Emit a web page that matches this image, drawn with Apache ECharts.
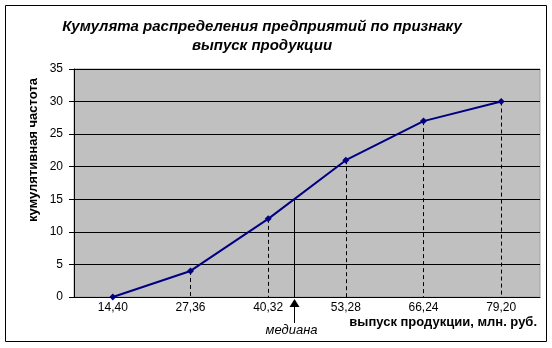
<!DOCTYPE html>
<html><head><meta charset="utf-8">
<script src="https://cdn.jsdelivr.net/npm/echarts@6/dist/echarts.min.js"></script>
<style>html,body{margin:0;padding:0;background:#fff}#c{width:552px;height:348px}</style>
</head><body><div id="c"></div>
<script>
var categories = [14.40, 27.36, 40.32, 53.28, 66.24, 79.20];
var categoryLabels = ['14,40', '27,36', '40,32', '53,28', '66,24', '79,20'];
var cumulative = [0, 4, 12, 21, 27, 30];
var yTicks = [0, 5, 10, 15, 20, 25, 30, 35];
var medianX = 44.64;
var medianY = 15;
var titleText = 'Кумулята распределения предприятий по признаку\nвыпуск продукции';
var yName = 'кумулятивная частота';
var xName = 'выпуск продукции, млн. руб.';
var medianLabel = 'медиана';

var FONT = '"Liberation Sans", Arial, sans-serif';
var step = categories[1] - categories[0];
var chart = echarts.init(document.getElementById('c'), null, {renderer: 'canvas'});

var pts = categories.map(function (x, i) { return [x, cumulative[i]]; });
var drops = [];
for (var i = 1; i < pts.length; i++) {
  drops.push([{coord: [pts[i][0], pts[i][1]]}, {coord: [pts[i][0], 0]}]);
}

var option = {
  animation: false,
  backgroundColor: '#ffffff',
  grid: {left: 74, right: 12, top: 69, bottom: 51, show: true, backgroundColor: '#c0c0c0', borderColor: '#a0a0a0', borderWidth: 1},
  xAxis: [{
    type: 'category', data: categoryLabels, boundaryGap: true,
    axisLine: {lineStyle: {color: '#000', width: 1}},
    axisTick: {show: false},
    axisLabel: {color: '#000', fontFamily: FONT, fontSize: 12, margin: 5},
    splitLine: {show: false}
  }, {
    type: 'value', show: false,
    min: categories[0] - step / 2, max: categories[categories.length - 1] + step / 2
  }],
  yAxis: {
    type: 'value', min: yTicks[0], max: yTicks[yTicks.length - 1], interval: yTicks[1] - yTicks[0],
    axisLine: {show: true, lineStyle: {color: '#000', width: 1}},
    axisTick: {show: true, length: 5, lineStyle: {color: '#000'}},
    axisLabel: {color: '#000', fontFamily: FONT, fontSize: 12, margin: 11},
    splitLine: {show: true, lineStyle: {color: '#000', width: 1}}
  },
  series: [{
    type: 'line', xAxisIndex: 1, yAxisIndex: 0, data: pts,
    symbol: 'diamond', symbolSize: 7, clip: false,
    lineStyle: {color: '#000080', width: 2},
    itemStyle: {color: '#000080'},
    z: 5,
    markLine: {
      silent: true, symbol: ['none', 'none'], animation: false,
      label: {show: false},
      lineStyle: {color: '#000', width: 1, type: [4, 3]},
      data: drops.concat([[{coord: [medianX, medianY], lineStyle: {type: 'solid', color: '#000', width: 1}}, {coord: [medianX, 0]}]])
    }
  }]
};
chart.setOption(option);

var base = chart.convertToPixel({xAxisIndex: 1, yAxisIndex: 0}, [medianX, 0]);
var mx = Math.round(base[0]) + 0.5, my = base[1];
chart.setOption({
  graphic: [
    {type: 'rect', shape: {x: 5.5, y: 5.5, width: 541, height: 336}, style: {fill: null, stroke: '#000', lineWidth: 1}, silent: true},
    {type: 'text', x: 262, y: 17, style: {text: titleText, font: 'italic bold 15px ' + FONT, textAlign: 'center', textVerticalAlign: 'top', lineHeight: 19, fill: '#000'}},
    {type: 'text', x: 33, y: 150, rotation: Math.PI / 2, style: {text: yName, font: 'bold 13px ' + FONT, textAlign: 'center', textVerticalAlign: 'middle', fill: '#000'}},
    {type: 'text', x: 537, y: 322, style: {text: xName, font: 'bold 13px ' + FONT, textAlign: 'right', textVerticalAlign: 'middle', fill: '#000'}},
    {type: 'polygon', shape: {points: [[mx, my + 2], [mx - 5, my + 10], [mx + 5, my + 10]]}, style: {fill: '#000'}},
    {type: 'line', shape: {x1: mx, y1: my + 9, x2: mx, y2: my + 26}, style: {stroke: '#000', lineWidth: 1}},
    {type: 'text', x: mx - 3, y: my + 33, style: {text: medianLabel, font: 'italic 13px ' + FONT, textAlign: 'center', textVerticalAlign: 'middle', fill: '#000'}}
  ]
});
</script></body></html>
